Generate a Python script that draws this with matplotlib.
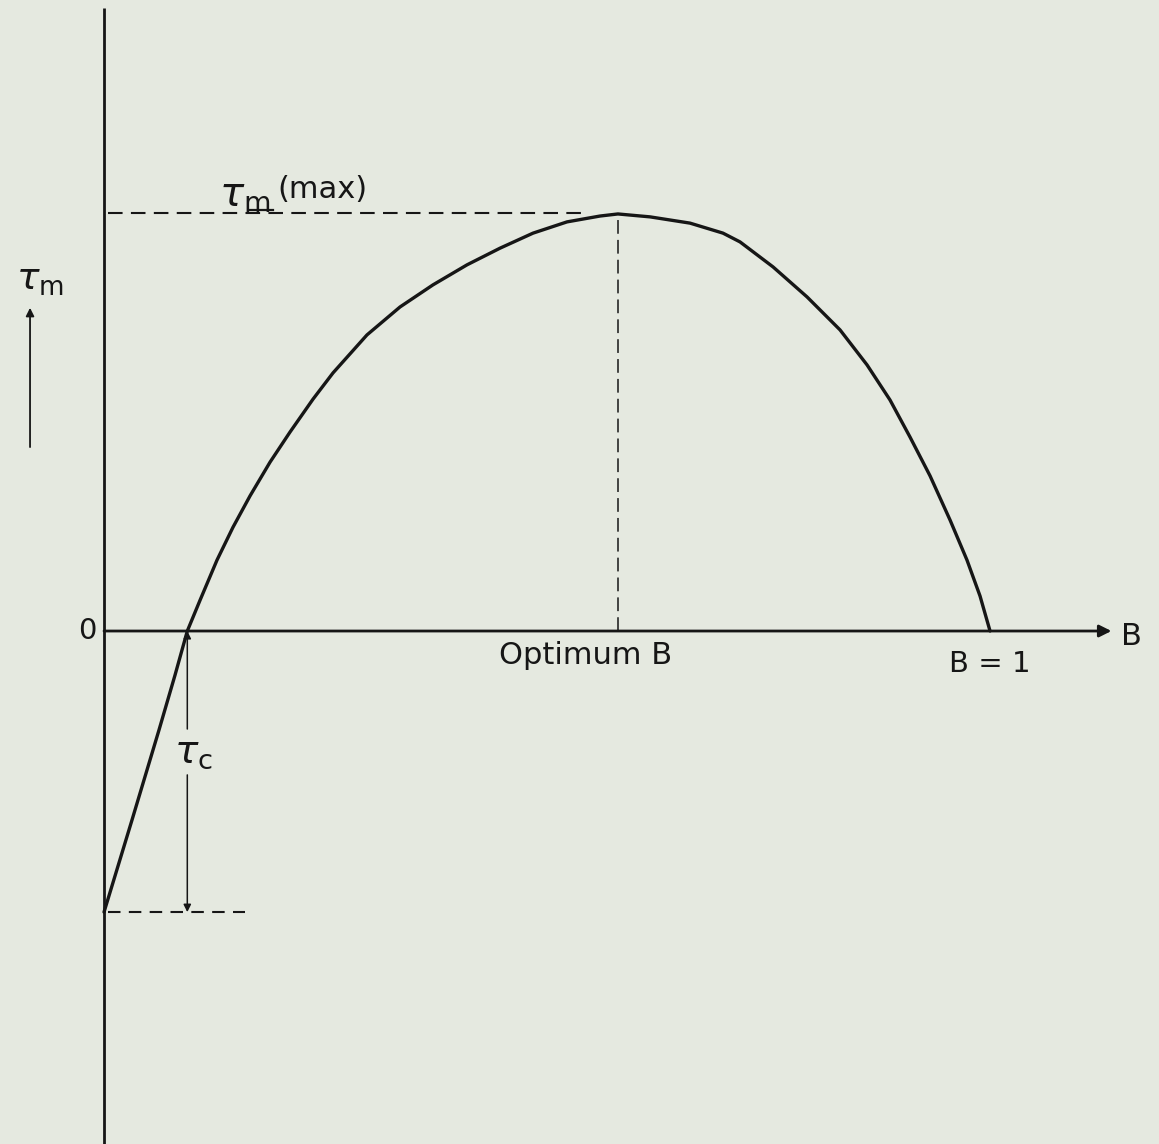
import matplotlib
matplotlib.use("Agg")
import matplotlib.pyplot as plt

plt.rcParams['mathtext.fontset'] = 'dejavusans'
plt.rcParams['font.family'] = ['DejaVu Sans']

# Curve: B (x) and tau_m (y, normalised so tau_m(max)=1)
B_vals = [0.0, 0.0316, 0.0621, 0.0801, 0.094, 0.1084, 0.1275, 0.1456, 0.1648,
          0.1874, 0.2099, 0.2359, 0.2585, 0.2968, 0.3341, 0.3713, 0.4097, 0.4470,
          0.4842, 0.5226, 0.5598, 0.580, 0.6163, 0.6614, 0.6986, 0.7178,
          0.7551, 0.7935, 0.8307, 0.8612, 0.8871, 0.9097, 0.9323, 0.9549, 0.9740,
          0.9887, 1.0]
tau_vals = [-0.674, -0.453, -0.237, -0.106, 0.0, 0.074, 0.170, 0.249, 0.324,
            0.405, 0.477, 0.556, 0.619, 0.710, 0.777, 0.830, 0.878, 0.918,
            0.954, 0.981, 0.995, 1.0, 0.993, 0.978, 0.954, 0.933,
            0.873, 0.801, 0.722, 0.638, 0.554, 0.465, 0.372, 0.266, 0.170,
            0.084, 0.0]

B_opt = 0.580       # optimum B
tau_max = 1.0       # tau_m(max)
B_c = 0.094         # B where tau_m = 0
tau_c = -0.674      # tau_m at B = 0

bg = '#e5e9e0'
ink = '#161616'

fig = plt.figure(figsize=(11.59, 11.44), dpi=100, facecolor=bg)
ax = fig.add_axes([0, 0, 1, 1], facecolor=bg)
ax.set_xlim(-0.1174, 1.1907)
ax.set_ylim(-1.230, 1.513)
ax.axis('off')

# axes
ax.plot([0, 0], [-1.23, 1.494], color=ink, lw=2.0, solid_capstyle='butt')
ax.annotate('', xy=(1.137, 0), xytext=(0, 0),
            arrowprops=dict(arrowstyle='-|>', color=ink, lw=2.0,
                            mutation_scale=18, shrinkA=0, shrinkB=0))

# main curve
ax.plot(B_vals, tau_vals, color=ink, lw=2.4, solid_joinstyle='round',
        solid_capstyle='round')

# dashed guides
ax.plot([0.005, 0.545], [tau_max * 1.003, tau_max * 1.003], color=ink, lw=1.5,
        dashes=(7, 4))
ax.plot([B_opt, B_opt], [0, tau_max], color=ink, lw=1.1, dashes=(9, 4))
ax.plot([0.005, 0.159], [tau_c, tau_c], color=ink, lw=1.5, dashes=(6, 4))

# tau_c double arrow (broken for label)
ax.annotate('', xy=(B_c, 0), xytext=(B_c, -0.235),
            arrowprops=dict(arrowstyle='-|>', color=ink, lw=1.1,
                            mutation_scale=11, shrinkA=0, shrinkB=0))
ax.annotate('', xy=(B_c, tau_c), xytext=(B_c, -0.345),
            arrowprops=dict(arrowstyle='-|>', color=ink, lw=1.1,
                            mutation_scale=11, shrinkA=0, shrinkB=0))
ax.text(0.101, -0.29, r'$\tau_{\mathrm{c}}$', fontsize=28, color=ink,
        ha='center', va='center')

# y label with arrow
ax.text(-0.072, 0.842, r'$\tau_{\mathrm{m}}$', fontsize=27, color=ink,
        ha='center', va='center')
ax.annotate('', xy=(-0.0835, 0.775), xytext=(-0.0835, 0.441),
            arrowprops=dict(arrowstyle='-|>', color=ink, lw=1.3,
                            mutation_scale=12, shrinkA=0, shrinkB=0))

# tau_m(max) label
ax.text(0.130, 1.045, r'$\tau_{\mathrm{m}}$', fontsize=29, color=ink,
        ha='left', va='center')
ax.text(0.196, 1.058, '(max)', fontsize=22, color=ink, ha='left', va='center')
ax.plot([0.165, 0.191], [1.010, 1.010], color=ink, lw=1.6)

# axis labels
ax.text(-0.009, 0.0, '0', fontsize=21, color=ink, ha='right', va='center')
ax.text(0.543, -0.058, 'Optimum B', fontsize=22, color=ink, ha='center', va='center')
ax.text(1.0, -0.080, 'B = 1', fontsize=21, color=ink, ha='center', va='center')
ax.text(1.160, -0.012, 'B', fontsize=22, color=ink, ha='center', va='center')

fig.savefig('out.png', dpi=100, facecolor=bg)
